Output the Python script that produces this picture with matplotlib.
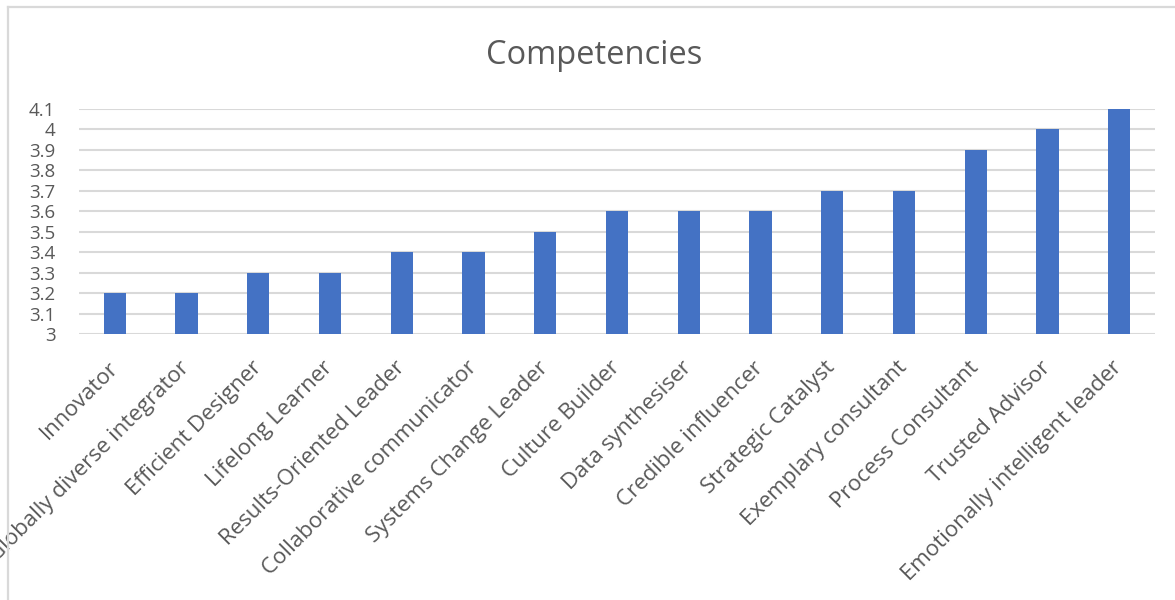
import matplotlib.pyplot as plt
from matplotlib.lines import Line2D

competencies = ['Innovator', 'Globally diverse integrator', 'Efficient Designer',
                'Lifelong Learner', 'Results-Oriented Leader',
                'Collaborative communicator', 'Systems Change Leader',
                'Culture Builder', 'Data synthesiser', 'Credible influencer',
                'Strategic Catalyst', 'Exemplary consultant', 'Process Consultant',
                'Trusted Advisor', 'Emotionally intelligent leader']
scores = [3.2, 3.2, 3.3, 3.3, 3.4, 3.4, 3.5, 3.6, 3.6, 3.6, 3.7, 3.7, 3.9, 4.0, 4.1]
yticks = [3, 3.1, 3.2, 3.3, 3.4, 3.5, 3.6, 3.7, 3.8, 3.9, 4, 4.1]
ytick_labels = ['3', '3.1', '3.2', '3.3', '3.4', '3.5', '3.6', '3.7', '3.8', '3.9', '4', '4.1']

plt.rcParams['font.family'] = ['Open Sans', 'DejaVu Sans']
txt = '#595959'
grid = '#d9d9d9'

fig = plt.figure(figsize=(11.75, 6.0), dpi=100)
ax = fig.add_axes([0.0672, 0.4433, 0.9158, 0.375])

x = range(len(competencies))
ax.bar(x, [s - 3 for s in scores], bottom=3, width=0.31, color='#4472C4', zorder=3)

ax.set_xlim(-0.5, len(competencies) - 0.5)
ax.set_ylim(3, 4.1)
ax.set_yticks(yticks)
ax.set_yticklabels(ytick_labels)
ax.set_xticks(list(x))
ax.set_xticklabels(competencies, rotation=45, ha='right', va='center',
                   rotation_mode='anchor')
ax.tick_params(axis='y', length=0, pad=17, labelsize=13.5, labelcolor=txt)
ax.tick_params(axis='x', length=0, pad=22, labelsize=16, labelcolor=txt)

ax.grid(axis='y', color=grid, linewidth=1.5, zorder=0)
for s in ax.spines.values():
    s.set_visible(False)

fig.text(0.506, 0.907, 'Competencies', ha='center', va='center',
         fontsize=23.5, color=txt)

# outer chart frame along the top and left edges
fig.add_artist(Line2D([0.0065, 0.0065], [0, 0.988], transform=fig.transFigure,
                      color=grid, linewidth=1.6))
fig.add_artist(Line2D([0.0065, 1], [0.988, 0.988], transform=fig.transFigure,
                      color=grid, linewidth=1.6))

fig.savefig('out.png', dpi=100)
